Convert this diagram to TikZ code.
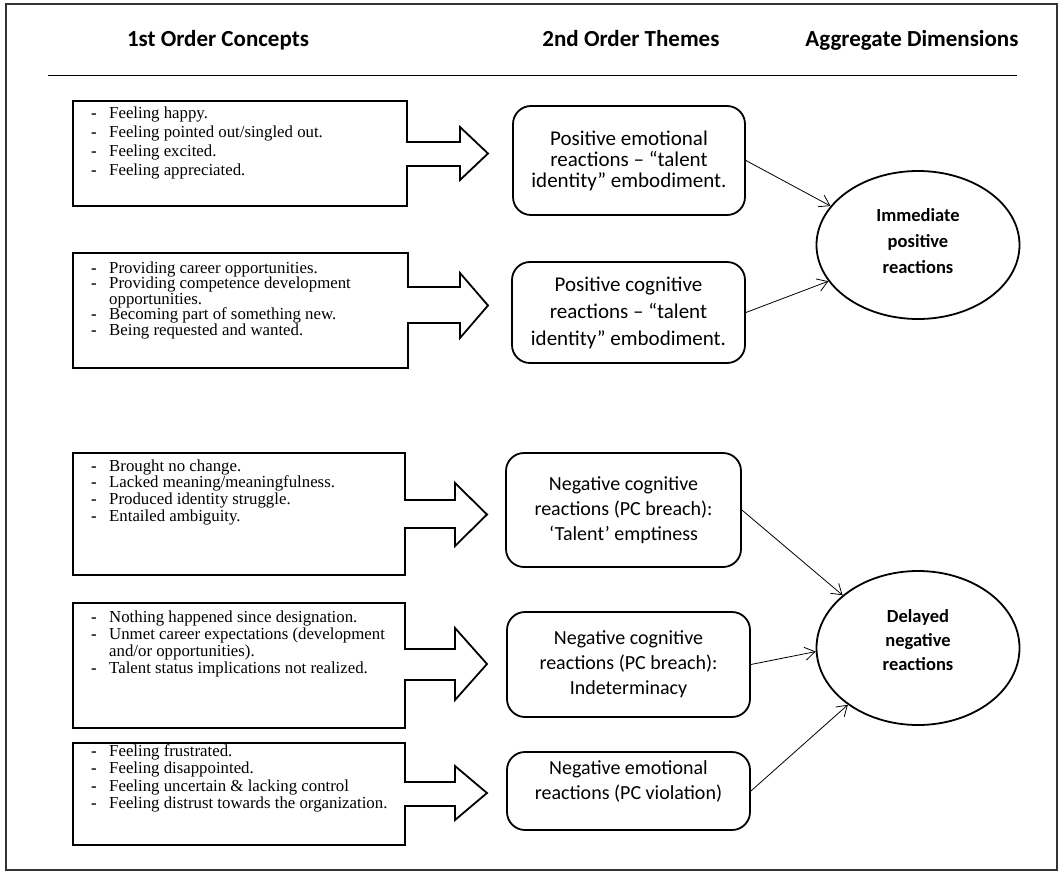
\documentclass[tikz,border=0pt]{standalone}
\usepackage{fontspec}
\setmainfont{Liberation Serif}
\newfontfamily\calfont{Carlito}
\usetikzlibrary{shapes.geometric,arrows.meta}
\newcommand\itm[1]{\hbox{\makebox[18pt][l]{\textbf{-}}#1}}
\newcommand\cnt[1]{\hbox{\hspace*{18pt}#1}}
\newcommand\itemlines[2]{\vtop{\baselineskip=#1pt\relax #2}}
\begin{document}
\begin{tikzpicture}[x=1pt,y=-1pt,
  hdr/.style={font=\calfont\fontsize{23}{26}\selectfont\bfseries, anchor=base, inner sep=0},
  abox/.style={draw, line width=1.8pt, line join=miter},
  rbox/.style={draw, line width=1.8pt, rounded corners=18pt, align=center, inner sep=2pt},
  rfont/.style 2 args={font=\calfont\fontsize{#1}{#2}\selectfont},
  dim/.style={draw, ellipse, line width=1.8pt, align=center, inner sep=0,
    font=\calfont\fontsize{18.5}{26}\selectfont\bfseries},
  conn/.style={line width=0.8pt, -{Straight Barb[length=10pt,width=13pt]}},
  items/.style={anchor=base west, inner sep=0, font=\fontsize{16.8}{18}\selectfont}
]
\useasboundingbox (0,0) rectangle (1063,875);
\draw[line width=1.5pt, draw=black!80] (6,4) rectangle (1057,870);

% headers
\node[hdr] (h1) at (218,47) {1st Order Concepts};
\node[hdr] (h2) at (631,47) {2nd Order Themes};
\node[hdr] (h3) at (912,47) {Aggregate Dimensions};
\draw[line width=0.9pt] (48,75) -- (1017,75);

% arrow boxes
\draw[abox] (73,101) -- (407,101) -- (407,142) -- (460,142) -- (460,127) -- (488,153.5)
  -- (460,180) -- (460,166) -- (407,166) -- (407,206) -- (73,206) -- cycle;
\draw[abox] (73,253) -- (408,253) -- (408,287) -- (460,287) -- (460,273) -- (488,305.5)
  -- (460,338) -- (460,323) -- (408,323) -- (408,368) -- (73,368) -- cycle;
\draw[abox] (73,453) -- (405,453) -- (405,500) -- (455,500) -- (455,483) -- (487,514.5)
  -- (455,546) -- (455,528) -- (405,528) -- (405,575) -- (73,575) -- cycle;
\draw[abox] (73,603) -- (405,603) -- (405,649) -- (455,649) -- (455,628) -- (487,664)
  -- (455,700) -- (455,680) -- (405,680) -- (405,728) -- (73,728) -- cycle;
\draw[abox] (73,743) -- (405,743) -- (405,782) -- (455,782) -- (455,766) -- (487,793)
  -- (455,820) -- (455,806) -- (405,806) -- (405,845) -- (73,845) -- cycle;

% first order concepts
\node[items] (c1) at (91,118) {\itemlines{19}{%
  \itm{Feeling happy.}\itm{Feeling pointed out/singled out.}%
  \itm{Feeling excited.}\itm{Feeling appreciated.}}};
\node[items] (c2) at (91,273) {\itemlines{15.5}{%
  \itm{Providing career opportunities.}\itm{Providing competence development}%
  \cnt{opportunities.}\itm{Becoming part of something new.}\itm{Being requested and wanted.}}};
\node[items] (c3) at (91,471) {\itemlines{16.7}{%
  \itm{Brought no change.}\itm{Lacked meaning/meaningfulness.}%
  \itm{Produced identity struggle.}\itm{Entailed ambiguity.}}};
\node[items] (c4) at (91,622) {\itemlines{17.3}{%
  \itm{Nothing happened since designation.}\itm{Unmet career expectations (development}%
  \cnt{and/or opportunities).}\itm{Talent status implications not realized.}}};
\node[items] (c5) at (91,756) {\itemlines{17.5}{%
  \itm{Feeling frustrated.}\itm{Feeling disappointed.}%
  \itm{Feeling uncertain \& lacking control}\itm{Feeling distrust towards the organization.}}};

% second order themes
\node[rbox, rfont={21}{21}, minimum width=232pt, minimum height=109pt] (A) at (629,160.5)
  {Positive emotional\\reactions – “talent\\identity” embodiment.};
\node[rbox, rfont={21}{27}, minimum width=233pt, minimum height=101pt] (B) at (628.5,312.5)
  {Positive cognitive\\reactions – “talent\\identity” embodiment.};
\node[rbox, rfont={20}{25}, minimum width=235pt, minimum height=114pt] (C) at (623.5,510)
  {Negative cognitive\\reactions (PC breach):\\‘Talent’ emptiness};
\node[rbox, rfont={20}{25}, minimum width=243pt, minimum height=105pt] (D) at (628.5,664.5)
  {Negative cognitive\\reactions (PC breach):\\Indeterminacy};
\node[rbox, rfont={20}{25}, minimum width=243pt, minimum height=78pt] (E) at (628.5,791)
  {Negative emotional\\reactions (PC violation)\\[-3pt]\mbox{}};

% aggregate dimensions
\node[dim, minimum width=203pt, minimum height=148pt] (imm) at (918,245)
  {Immediate\\positive\\reactions\\[-18pt]\mbox{}};
\node[dim, minimum width=203pt, minimum height=154pt,
  font=\calfont\fontsize{18.5}{24}\selectfont\bfseries] (del) at (918,648)
  {Delayed\\negative\\reactions\\[-8pt]\mbox{}};

% connectors
\draw[conn] (A.east) -- (imm.156);
\draw[conn] (B.east) -- (imm.202);
\draw[conn] (C.east) -- (del.145);
\draw[conn] (D.east) -- (del.182);
\draw[conn] (E.east) -- (del.219);
\end{tikzpicture}
\end{document}
